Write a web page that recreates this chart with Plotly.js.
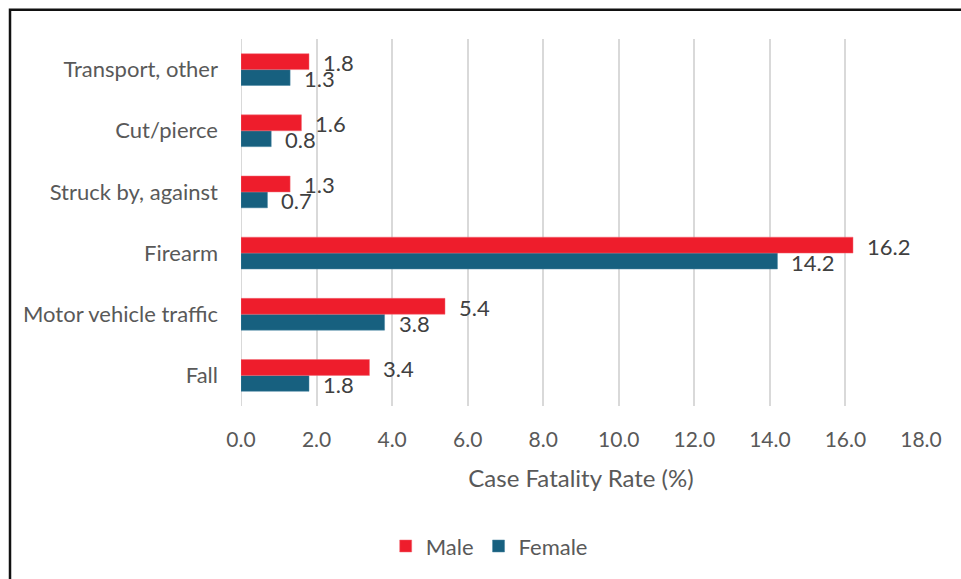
<!DOCTYPE html>
<html>
<head>
<meta charset="utf-8">
<script src="https://cdn.plot.ly/plotly-3.0.1.min.js"></script>
<style>
  html, body { margin: 0; padding: 0; background: #ffffff; }
  #chart { width: 961px; height: 579px; }
</style>
</head>
<body>
<div id="chart"></div>
<script>
// Injury categories, bottom to top as drawn on the y axis
const categories = [
  'Fall',
  'Motor vehicle traffic',
  'Firearm',
  'Struck by, against',
  'Cut/pierce',
  'Transport, other'
];
// Case fatality rate (%) by sex
const maleRate   = [3.4, 5.4, 16.2, 1.3, 1.6, 1.8];
const femaleRate = [1.8, 3.8, 14.2, 0.7, 0.8, 1.3];
// X axis ticks
const xTickValues = [0, 2, 4, 6, 8, 10, 12, 14, 16, 18];
const xTickLabels = ['0.0', '2.0', '4.0', '6.0', '8.0', '10.0', '12.0', '14.0', '16.0', '18.0'];

const FONT = 'Lato, "Open Sans", sans-serif';
const MALE_COLOR = '#EE1D2C';
const FEMALE_COLOR = '#17607F';

const traces = [
  {
    type: 'bar', orientation: 'h', name: 'Female',
    y: categories, x: femaleRate,
    marker: { color: FEMALE_COLOR, line: { color: '#4a86a3', width: 0.5 } },
    legendrank: 2, hoverinfo: 'x+name'
  },
  {
    type: 'bar', orientation: 'h', name: 'Male',
    y: categories, x: maleRate,
    marker: { color: MALE_COLOR, line: { color: '#f26a74', width: 0.5 } },
    legendrank: 1, hoverinfo: 'x+name'
  }
];

// Value labels just past the end of each bar
const valueLabels = [];
categories.forEach((c, i) => {
  valueLabels.push({
    x: maleRate[i], y: c, xref: 'x', yref: 'y',
    text: maleRate[i].toFixed(1), showarrow: false,
    xanchor: 'left', yanchor: 'middle', xshift: 13, yshift: 7,
    borderpad: 0,
    font: { family: FONT, size: 22, color: '#404040' }
  });
  valueLabels.push({
    x: femaleRate[i], y: c, xref: 'x', yref: 'y',
    text: femaleRate[i].toFixed(1), showarrow: false,
    xanchor: 'left', yanchor: 'middle', xshift: 13, yshift: -9,
    borderpad: 0,
    font: { family: FONT, size: 22, color: '#404040' }
  });
});

const layout = {
  width: 961, height: 579,
  margin: { l: 241, r: 40, t: 39, b: 171 },
  paper_bgcolor: '#ffffff', plot_bgcolor: '#ffffff',
  font: { family: FONT, size: 21, color: '#595959' },
  barmode: 'group', bargap: 0.48, bargroupgap: 0,
  showlegend: true,
  legend: {
    orientation: 'h', x: 0.365, xanchor: 'center', y: -0.382, yanchor: 'middle',
    font: { family: FONT, size: 22, color: '#595959' },
    itemwidth: 30, tracegroupgap: 0
  },
  xaxis: {
    range: [0, 18], tickvals: xTickValues, ticktext: xTickLabels,
    showgrid: true, gridcolor: '#D9D9D9', gridwidth: 2,
    zeroline: false, showline: false, ticks: '',
    ticklabelstandoff: 19,
    tickfont: { family: FONT, size: 21, color: '#595959' },
    title: { text: 'Case Fatality Rate (%)', standoff: 20,
             font: { family: FONT, size: 24, color: '#595959' } },
    fixedrange: true
  },
  yaxis: {
    type: 'category', categoryorder: 'array', categoryarray: categories,
    showgrid: false, zeroline: false, showline: false, ticks: '',
    ticklabelstandoff: 22,
    tickfont: { family: FONT, size: 22, color: '#595959' },
    fixedrange: true
  },
  annotations: valueLabels,
  shapes: [
    // frame around the chart
    { type: 'rect', xref: 'paper', yref: 'paper',
      x0: -0.3397, x1: 1.2, y0: -0.6, y1: 1.08,
      line: { color: '#111111', width: 2.5 }, fillcolor: 'rgba(0,0,0,0)', layer: 'above' },
    // zero line of the value axis
    { type: 'line', xref: 'x', yref: 'paper', x0: 0, x1: 0, y0: 0, y1: 1,
      line: { color: '#D9D9D9', width: 2 }, layer: 'below' }
  ]
};

Plotly.newPlot('chart', traces, layout, { displayModeBar: false, staticPlot: true });
</script>
</body>
</html>
